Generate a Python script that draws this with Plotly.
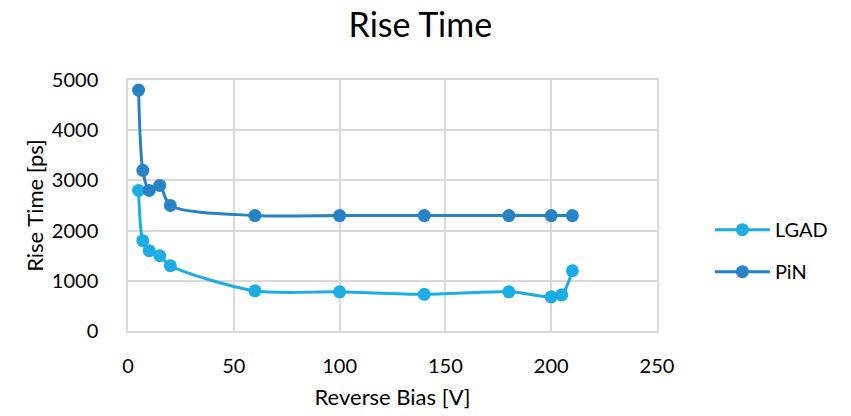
import plotly.graph_objects as go

# Data
bias_lgad = [5, 7, 10, 15, 20, 60, 100, 140, 180, 200, 205, 210]
rise_lgad = [2800, 1800, 1600, 1500, 1300, 800, 780, 730, 780, 680, 720, 1200]

bias_pin = [5, 7, 10, 15, 20, 60, 100, 140, 180, 200, 210]
rise_pin = [4800, 3200, 2800, 2900, 2500, 2300, 2300, 2300, 2300, 2300, 2300]

x_ticks = [0, 50, 100, 150, 200, 250]
y_ticks = [0, 1000, 2000, 3000, 4000, 5000]

FONT = "Lato"
GRID = "#D9D9D9"

fig = go.Figure()
fig.add_trace(go.Scatter(
    x=bias_lgad, y=rise_lgad, name="LGAD", mode="lines+markers",
    line=dict(color="#1CADE4", width=3, shape="spline", smoothing=0.8),
    marker=dict(color="#1CADE4", size=13),
    legendgroup="a",
))
fig.add_trace(go.Scatter(
    x=bias_pin, y=rise_pin, name="PiN", mode="lines+markers",
    line=dict(color="#2683C6", width=3, shape="spline", smoothing=0.8),
    marker=dict(color="#2683C6", size=13),
    legendgroup="b",
))

fig.update_layout(
    width=851, height=416,
    margin=dict(l=128, r=194, t=80, b=85, autoexpand=False),
    paper_bgcolor="white", plot_bgcolor="white",
    font=dict(family=FONT, color="#000000", size=20),
    title=dict(text="Rise Time", x=0.494, xref="container", xanchor="center",
               y=1 - 25 / 416, yref="container", yanchor="middle",
               font=dict(family=FONT, size=34, color="#000000")),
    showlegend=True,
    legend=dict(x=1.1, xanchor="left", y=0.32, yanchor="middle",
                font=dict(family=FONT, size=20, color="#000000"),
                traceorder="grouped", tracegroupgap=13, itemwidth=55,
                bgcolor="rgba(0,0,0,0)"),
)
fig.update_xaxes(
    range=[0, 250], tickvals=x_ticks, ticktext=[str(v) for v in x_ticks],
    showgrid=True, gridcolor=GRID, gridwidth=1.5,
    showline=True, linecolor=GRID, linewidth=1.5, mirror=True,
    zeroline=False, ticks="", ticklabelstandoff=16, automargin=False,
    tickfont=dict(family=FONT, size=20),
    title=dict(text="Reverse Bias [V]", font=dict(family=FONT, size=22), standoff=14),
)
fig.update_yaxes(
    range=[0, 5000], tickvals=y_ticks, ticktext=[str(v) for v in y_ticks],
    showgrid=True, gridcolor=GRID, gridwidth=1.5,
    showline=True, linecolor=GRID, linewidth=1.5, mirror=True,
    zeroline=False, ticks="", ticklabelstandoff=24, automargin=False,
    tickfont=dict(family=FONT, size=20),
    title=dict(text="Rise Time [ps]", font=dict(family=FONT, size=22), standoff=2),
)

fig.write_html("out.html")
